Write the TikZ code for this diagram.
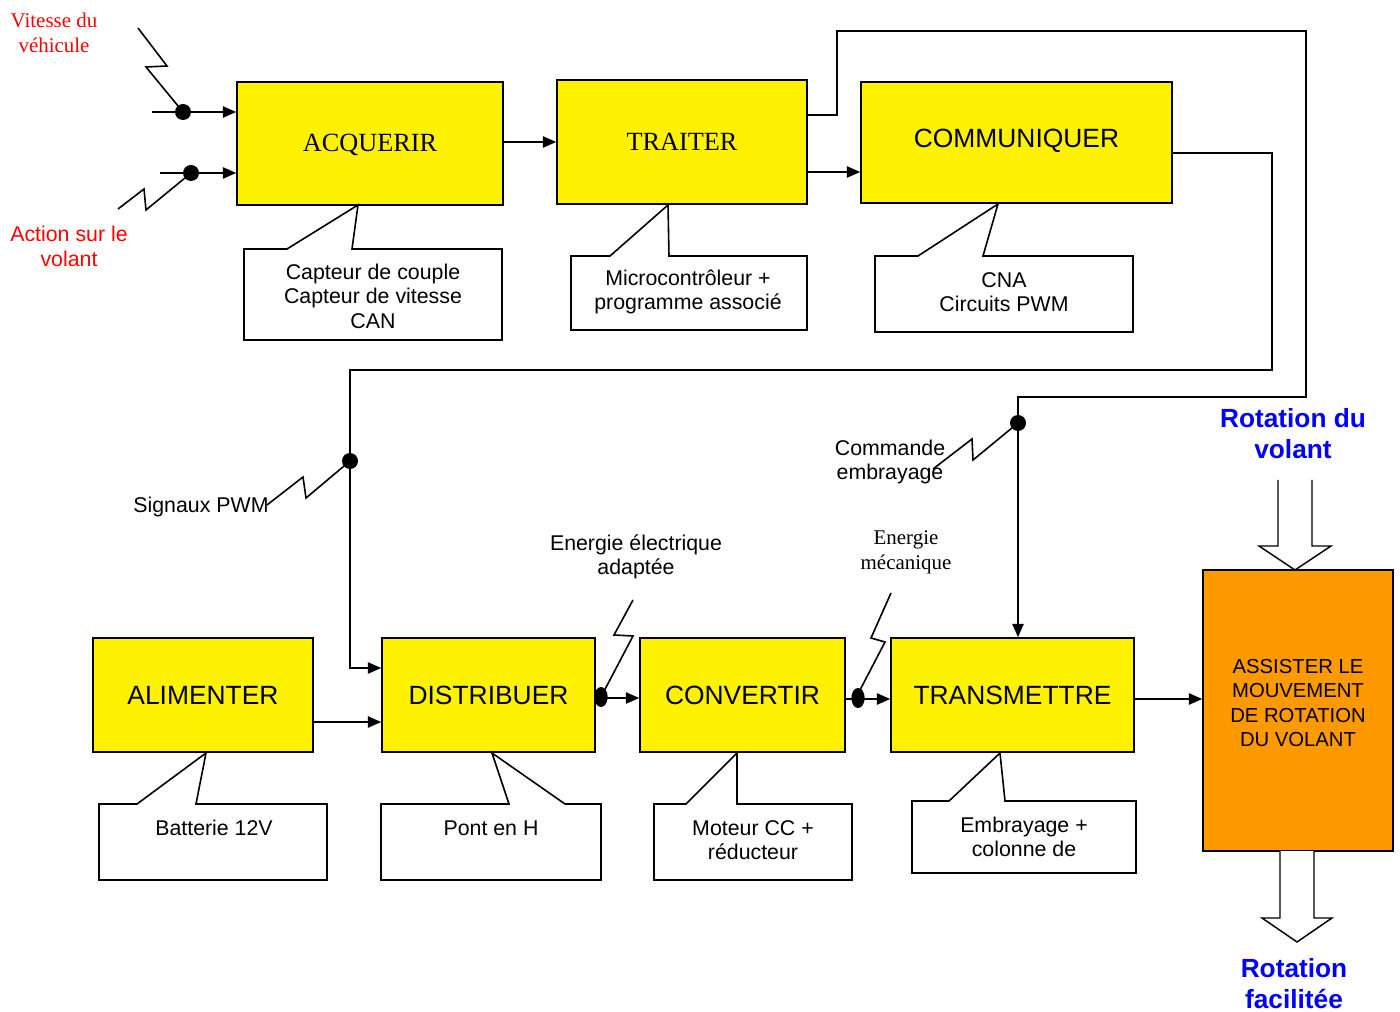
\documentclass[tikz,border=0pt]{standalone}
\usepackage{fontspec}
\setmainfont{Liberation Serif}
\newfontfamily\arial{Liberation Sans}
\usetikzlibrary{arrows.meta}
\definecolor{orng}{RGB}{255,153,0}
\begin{document}
\begin{tikzpicture}[x=0.75pt,y=-0.75pt,line width=1.2pt,
  arr/.style={-{Triangle[length=10pt,width=8.5pt]}},
  fbox/.style={draw,fill=yellow,inner sep=0pt},
  serifbig/.style={font=\fontsize{19.7}{23}\selectfont},
  sansbig/.style={font=\arial\fontsize{19.8}{23}\selectfont},
  sanstxt/.style={font=\arial\fontsize{16}{18.4}\selectfont,align=center},
  seriftxt/.style={font=\fontsize{15.7}{18.75}\selectfont,align=center},
  bluetxt/.style={font=\arial\bfseries\fontsize{19.7}{23.25}\selectfont,align=center,text=blue},
  callout/.style={draw,fill=white},
  hollow/.style={draw,fill=white,line width=1.1pt}]
\useasboundingbox (0,0) rectangle (1400,1012);

% ---- function boxes ----
\node[fbox,serifbig,minimum width=199.5pt,minimum height=92.25pt,text depth=1pt] (acq) at (370,143.5) {ACQUERIR};
\node[fbox,serifbig,minimum width=187.5pt,minimum height=93pt,text depth=1pt] (tra) at (682,142) {TRAITER};
\node[fbox,sansbig,minimum width=233.25pt,minimum height=90.75pt,text depth=6pt] (com) at (1016.5,142.5) {COMMUNIQUER};
\node[fbox,sansbig,minimum width=165pt,minimum height=85.5pt] (ali) at (203,695) {ALIMENTER};
\node[fbox,sansbig,minimum width=159.75pt,minimum height=85.5pt] (dis) at (488.5,695) {DISTRIBUER};
\node[fbox,sansbig,minimum width=153.75pt,minimum height=85.5pt] (con) at (742.5,695) {CONVERTIR};
\node[fbox,sansbig,minimum width=182.25pt,minimum height=85.5pt] (tms) at (1012.5,695) {TRANSMETTRE};
\node[draw,fill=orng,inner sep=0pt,minimum width=142.5pt,minimum height=210.75pt] (ass) at (1298,710.5) {};
\node[font=\arial\fontsize{15.2}{18.4}\selectfont,align=center] (asstxt) at (1298,703)
      {ASSISTER LE\\MOUVEMENT\\DE ROTATION\\DU VOLANT};

% ---- callouts ----
\draw[callout] (244,249) -- (287,249) -- (358,205) -- (352,249) -- (502,249) -- (502,340) -- (244,340) -- cycle;
\node[sanstxt] (c1) at (373,296) {Capteur de couple\\Capteur de vitesse\\CAN};
\draw[callout] (571,256) -- (610,256) -- (668,205) -- (669,256) -- (807,256) -- (807,330) -- (571,330) -- cycle;
\node[sanstxt] (c2) at (688,292) {Microcontrôleur +\\programme associé};
\draw[callout] (875,256) -- (918,256) -- (998,204) -- (983,256) -- (1133,256) -- (1133,332) -- (875,332) -- cycle;
\node[sanstxt] (c3) at (1004,292) {CNA\\Circuits PWM};
\draw[callout] (99,804) -- (137,804) -- (206,753) -- (196,804) -- (327,804) -- (327,880) -- (99,880) -- cycle;
\node[sanstxt] (c4) at (214,828) {Batterie 12V};
\draw[callout] (381,804) -- (509,804) -- (492,753) -- (565,804) -- (601,804) -- (601,880) -- (381,880) -- cycle;
\node[sanstxt] (c5) at (491,828) {Pont en H};
\draw[callout] (654,804) -- (686,804) -- (737,753) -- (737,804) -- (852,804) -- (852,880) -- (654,880) -- cycle;
\node[sanstxt] (c6) at (753,840) {Moteur CC +\\réducteur};
\draw[callout] (912,801) -- (949,801) -- (1000,753) -- (1005,801) -- (1136,801) -- (1136,873) -- (912,873) -- cycle;
\node[sanstxt] (c7) at (1024,837) {Embrayage +\\colonne de};

% ---- connectors ----
\draw[arr] (acq.east |- 0,142) -- (tra.west |- 0,142);
\draw[arr] (tra.east |- 0,172) -- (com.west |- 0,172);
\draw[arr] (tra.east |- 0,115) -| (837,31) -| (1306,397) -| (tms.north -| 1018,0);
\draw[arr] (com.east |- 0,153) -| (1272,370) -| (350,668) -- (dis.west |- 0,668);
\draw[arr] (ali.east |- 0,722) -- (dis.west |- 0,722);
\draw[arr] (dis.east |- 0,698) -- (con.west |- 0,698);
\draw[arr] (con.east |- 0,699) -- (tms.west |- 0,699);
\draw[arr] (tms.east |- 0,699) -- (ass.west |- 0,699);

% inputs
\coordinate (in1) at (152,112);
\coordinate (in2) at (160,173);
\draw[arr] (in1) -- (acq.west |- in1);
\draw[arr] (in2) -- (acq.west |- in2);
\fill (183,112) circle (6pt);
\fill (191,173) circle (6pt);
\draw (138,28) -- (167,66) -- (146,67) -- (183,112);
\draw (118,209) -- (144,189) -- (146,210) -- (191,173);

% junction dots and lightning
\fill (350,461) circle (6pt);
\draw (267,505) -- (303,477) -- (306,498) -- (350,461);
\fill (1018,423) circle (6pt);
\draw (933,469) -- (972,439) -- (973,460) -- (1018,423);
\fill (601,697) ellipse (5pt and 7.5pt);
\draw (633,600) -- (614,635) -- (633,636) -- (602,695);
\fill (858,698) ellipse (5pt and 7.5pt);
\draw (891,593) -- (871,638) -- (885,642) -- (860,690);

% hollow arrows
\draw[hollow] (1278,480) -- (1278,546) -- (1259,546) -- (1295,570) -- (1331,546) -- (1312,546) -- (1312,480);
\draw[hollow] (1280,851) -- (1280,918) -- (1262,918) -- (1297,942) -- (1332,918) -- (1314,918) -- (1314,851);

% ---- labels ----
\node[seriftxt,text=red] (vit) at (54,33) {Vitesse du\\véhicule};
\node[sanstxt,text=red,font=\arial\fontsize{16}{18.75}\selectfont] (act) at (69,246) {Action sur le\\volant};
\node[sanstxt] (sig) at (201,507) {Signaux PWM};
\node[sanstxt] (cmd) at (890,462) {Commande\\embrayage};
\node[sanstxt] (eel) at (636,557) {Energie électrique\\adaptée};
\node[seriftxt] (emc) at (906,552) {Energie\\mécanique};
\node[bluetxt] (rdv) at (1293,434) {Rotation du\\volant};
\node[bluetxt] (rfa) at (1294,984) {Rotation\\facilitée};
\end{tikzpicture}
\end{document}
